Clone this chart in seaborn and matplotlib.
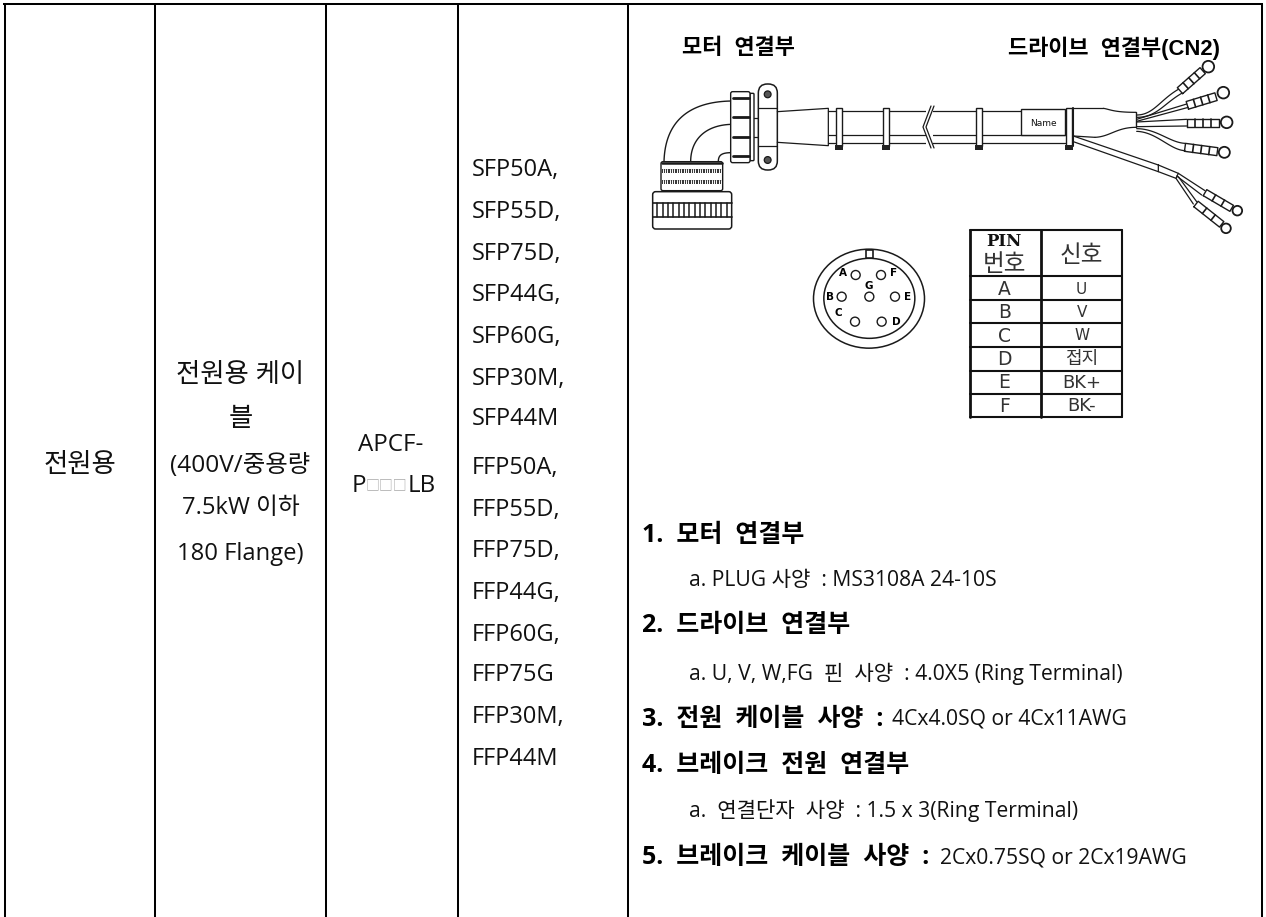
import matplotlib
matplotlib.use('Agg')
import matplotlib.pyplot as plt
import seaborn as sns
import numpy as np
from matplotlib.patches import Circle, Ellipse, FancyBboxPatch, Rectangle

usage_label = '전원용'
cable_lines = ['전원용 케이', '블', '(400V/중용량', '7.5kW 이하', '180 Flange)']
code_top = 'APCF-'
sfp_models = ['SFP50A,', 'SFP55D,', 'SFP75D,', 'SFP44G,', 'SFP60G,', 'SFP30M,', 'SFP44M']
ffp_models = ['FFP50A,', 'FFP55D,', 'FFP75D,', 'FFP44G,', 'FFP60G,', 'FFP75G', 'FFP30M,', 'FFP44M']
pin_labels = ['A', 'B', 'C', 'D', 'E', 'F']
signal_labels = ['U', 'V', 'W', '접지', 'BK+', 'BK-']
spec_heads = ['1.  모터  연결부', '2.  드라이브  연결부', '3.  전원  케이블  사양  :',
              '4.  브레이크  전원  연결부', '5.  브레이크  케이블  사양  :']
spec_tails = ['', '', '4Cx4.0SQ or 4Cx11AWG', '', '2Cx0.75SQ or 2Cx19AWG']
spec_subs = ['a. PLUG 사양  : MS3108A 24-10S',
             'a. U, V, W,FG  핀  사양  : 4.0X5 (Ring Terminal)',
             'a.  연결단자  사양  : 1.5 x 3(Ring Terminal)']

sns.set_theme(style='white')
BODY = ['Open Sans', 'Noto Sans CJK KR']
plt.rcParams['font.family'] = BODY

fig = plt.figure(figsize=(12.66, 9.17), dpi=100)
ax = fig.add_axes([0, 0, 1, 1])
ax.set_xlim(0, 1266)
ax.set_ylim(917, 0)
ax.set_axis_off()

INK = '#1a1a1a'
TXT = '#111111'

# table rules
ax.hlines(4, 3, 1263, color='black', lw=1.45)
ax.vlines([5, 155, 326, 457.5, 628, 1262], 4, 917, color='black', lw=1.45)

# left columns
ax.text(80, 466, usage_label, ha='center', va='center', fontsize=19, color=TXT)
for y, s, size in zip([376, 419, 466, 508, 554], cable_lines, [19, 19, 17.6, 17.1, 17.1]):
    ax.text(240.5, y, s, ha='center', va='center', fontsize=size, color=TXT)
ax.text(391, 445, code_top, ha='center', va='center', fontsize=17.4, color=TXT)
ax.text(352, 486, 'P', ha='left', va='center', fontsize=17.4, color=TXT)
ax.text(386, 486, '□□□', ha='center', va='center', fontsize=10, color='#a8a8a8')
ax.text(408, 486, 'LB', ha='left', va='center', fontsize=17.4, color=TXT)

for y, s in zip([170, 212, 254, 295, 337, 379, 419], sfp_models):
    ax.text(472, y, s, ha='left', va='center', fontsize=17, color=TXT)
for y, s in zip([468, 510, 551, 593, 635, 675, 717, 759], ffp_models):
    ax.text(472, y, s, ha='left', va='center', fontsize=17, color=TXT)

# spec list on the right
for y, head, tail, x_tail in zip([535, 626, 719, 766, 858], spec_heads, spec_tails,
                                 [0, 0, 892, 0, 940]):
    ax.text(642, y, head, ha='left', va='center', fontsize=18, fontweight='bold', color='black')
    if tail:
        ax.text(x_tail, y, tail, ha='left', va='center', fontsize=15.2, color=TXT)
for y, s in zip([580, 674, 811], spec_subs):
    ax.text(689, y, s, ha='left', va='center', fontsize=15.2, color=TXT)

# drawing labels
LABEL = ['Liberation Sans', 'Noto Sans CJK KR']
ax.text(738, 48, '모터  연결부', ha='center', va='center', fontsize=15.8, fontweight='bold',
        family=LABEL, color='black')
ax.text(1220, 48, '드라이브  연결부(CN2)', ha='right', va='center', fontsize=15.8,
        fontweight='bold', family=LABEL, color='black')


def za(x, y):
    return 640 + x / 3, y / 3


def zb(x, y):
    return 1010 + x / 3, y / 3


def zc(x, y):
    return 800 + x / 3, 220 + y / 3


def line(pts, lw=0.9, color=INK, z=3):
    xs, ys = zip(*pts)
    ax.plot(xs, ys, color=color, lw=lw, solid_capstyle='round', zorder=z)


def curve(p0, p1, p2, p3, lw=0.9):
    t = np.linspace(0, 1, 40)[:, None]
    p0, p1, p2, p3 = map(np.array, (p0, p1, p2, p3))
    pts = (1 - t) ** 3 * p0 + 3 * (1 - t) ** 2 * t * p1 + 3 * (1 - t) * t ** 2 * p2 + t ** 3 * p3
    ax.plot(pts[:, 0], pts[:, 1], color=INK, lw=lw, zorder=3)


def round_box(p0, p1, r=3, lw=1.0, fc='white', z=3):
    ax.add_patch(FancyBboxPatch((p0[0] + r, p0[1] + r), p1[0] - p0[0] - 2 * r, p1[1] - p0[1] - 2 * r,
                                boxstyle=f'round,pad={r},rounding_size={r}', ec=INK, fc=fc, lw=lw, zorder=z))


def terminal(p0, p1, ring, r, w=8.0, ticks=3):
    p0, p1 = np.array(p0), np.array(p1)
    d = (p1 - p0) / np.linalg.norm(p1 - p0)
    n = np.array([-d[1], d[0]]) * w / 2
    line([p0 + n, p1 + n, p1 - n, p0 - n, p0 + n], lw=1.0)
    for f in np.linspace(0, 1, ticks + 2)[1:-1]:
        c = p0 + (p1 - p0) * f
        line([c + n, c - n], lw=1.2)
    ax.add_patch(Circle(ring, r, ec=INK, fc='white', lw=1.3, zorder=4))


# elbow
curve(za(72, 485), za(75, 370), za(140, 305), za(275, 303), lw=1.0)
curve(za(152, 485), za(152, 420), za(195, 375), za(275, 373), lw=1.0)
curve(za(235, 485), za(235, 465), za(245, 458), za(275, 458), lw=1.0)

# nut and flange
round_box(za(330, 280), za(342, 482), r=1)
round_box(za(272, 275), za(330, 488), r=2)
for y in [295, 350, 412, 468]:
    line([za(280, y), za(327, y)], lw=2.0)
for y in [355, 410]:
    line([za(342, y), za(355, y)])
round_box(za(355, 252), za(412, 510), r=9, lw=1.1)
for y in [325, 437]:
    line([za(355, y), za(412, y)])
for y in [283, 480]:
    ax.add_patch(Circle(za(383, y), 3.4, ec=INK, fc='#555555', lw=0.9, zorder=4))

# taper and cable
line([za(412, 335), za(565, 325), za(565, 437), za(412, 427)])
line([za(565, 333), zb(32, 333)])
line([za(565, 405), zb(170, 405)])
line([za(565, 428), zb(170, 428)])

# break mark
ax.add_patch(Rectangle((926, 108), 7, 38, fc='white', ec='none', zorder=4))
line([(934, 106), (926, 127), (934, 148)], z=5)
line([(931, 106), (923, 127), (931, 148)], z=5)

# ties
for x in [836, 883, 976, 1066]:
    ax.add_patch(Rectangle((x, 108), 5.5, 38, ec=INK, fc='white', lw=1.0, zorder=5))
    ax.add_patch(Rectangle((x - 1.5, 145), 8.5, 4.5, ec='none', fc='#222222', zorder=5))
line([(1073, 108), (1073, 146)], lw=1.5)

# name sleeve
ax.add_patch(Rectangle(zb(32, 327), 44, 26, ec=INK, fc='white', lw=1.0, zorder=3))
ax.text(1043, 123, 'Name', ha='center', va='center', fontsize=6.5, family='DejaVu Sans', color=TXT)

# breakout
line([zb(190, 325), zb(280, 325)])
curve(zb(280, 325), zb(300, 328), zb(310, 337), zb(378, 337))
line([zb(190, 408), zb(255, 412)])
curve(zb(255, 412), zb(300, 410), zb(320, 382), zb(378, 382))
line([zb(378, 337), zb(378, 382)], lw=1.0)

# power wires
curve(zb(380, 345), zb(430, 345), zb(450, 300), zb(505, 268))
curve(zb(380, 352), zb(440, 352), zb(460, 312), zb(515, 280))
line([zb(380, 358), zb(530, 312)])
line([zb(380, 364), zb(535, 322)])
line([zb(380, 366), zb(530, 358)])
line([zb(380, 380), zb(530, 378)])
curve(zb(380, 386), zb(440, 386), zb(480, 428), zb(525, 430))
curve(zb(380, 394), zb(440, 396), zb(480, 450), zb(525, 452))
terminal(zb(510, 272), zb(578, 212), zb(595, 200), 5.8)
terminal(zb(532, 316), zb(618, 290), zb(640, 278), 5.8)
terminal(zb(530, 368), zb(628, 368), zb(650, 367), 5.8)
terminal(zb(525, 442), zb(622, 455), zb(643, 457), 5.5)

# brake cable
line([zb(190, 408), zb(445, 495)])
line([zb(190, 425), zb(445, 515)])
line([zb(445, 495), zb(505, 520), zb(498, 535), zb(445, 515), zb(445, 495)])
line([zb(505, 520), zb(585, 572)])
line([zb(500, 528), zb(575, 585)])
line([zb(505, 530), zb(560, 605)])
line([zb(498, 535), zb(550, 612)])
terminal(zb(585, 578), zb(665, 625), zb(682, 632), 4.8, w=7, ticks=2)
terminal(zb(558, 612), zb(635, 673), zb(648, 685), 4.8, w=7, ticks=2)

# connector body
round_box(za(63, 485), za(248, 572), r=2)
line([za(65, 489), za(246, 489)], lw=1.8)
for y in [512, 547]:
    ax.add_patch(Rectangle(za(65, y - 6), 60, 4, fc='#3a3a3a', ec='none', zorder=4))
    for x in np.arange(68, 246, 7):
        line([za(x, y - 6), za(x, y + 6)], lw=0.7, color='white', z=5)
line([za(72, 572), za(72, 578)])
line([za(238, 572), za(238, 578)])
round_box(za(38, 575), za(275, 687), r=3, lw=1.1)
for y in [608, 652]:
    line([za(38, y), za(275, y)], lw=1.2)
for x in np.arange(52, 272, 16):
    line([za(x, 610), za(x, 650)], lw=1.1)

# pin face
ax.add_patch(Ellipse(zc(207, 236), 111, 99, ec=INK, fc='white', lw=1.1, zorder=3))
ax.add_patch(Ellipse(zc(208, 235), 91, 80, ec=INK, fc='white', lw=1.1, zorder=3))
ax.add_patch(Rectangle(zc(197, 90), 7.5, 7.5, ec=INK, fc='white', lw=1.2, zorder=4))
for (hx, hy) in [(167, 165), (243, 165), (125, 230), (208, 230), (285, 230), (165, 305), (245, 305)]:
    ax.add_patch(Circle(zc(hx, hy), 4.5, ec=INK, fc='white', lw=1.0, zorder=4))
for s, (lx, ly) in zip('AFGBECD', [(130, 160), (280, 160), (207, 197), (90, 232), (323, 232), (115, 280), (288, 307)]):
    tx, ty = zc(lx, ly)
    ax.text(tx, ty, s, ha='center', va='center', fontsize=7.5, fontweight='bold',
            family='DejaVu Sans', color='black', zorder=5)

# pin table
rows_y = [30, 168, 240, 310, 380, 452, 522, 592]
for y in rows_y:
    line([zc(510, y), zc(965, y)], lw=1.5, color='#111111')
for x, lw in [(510, 2.0), (722, 2.0), (965, 1.5)]:
    line([zc(x, 30), zc(x, 592)], lw=lw, color='#111111')
tx, ty = zc(613, 65)
ax.text(tx, ty, 'PIN', ha='center', va='center', fontsize=12, fontweight='bold',
        family='DejaVu Serif', color='#111111')
tx, ty = zc(613, 133)
ax.text(tx, ty, '번호', ha='center', va='center', fontsize=17, family='Noto Sans CJK KR', color='#333333')
tx, ty = zc(845, 106)
ax.text(tx, ty, '신호', ha='center', va='center', fontsize=17, family='Noto Sans CJK KR', color='#333333')
for y, pin, sig in zip([208, 278, 348, 418, 488, 558], pin_labels, signal_labels):
    tx, ty = zc(613, y)
    ax.text(tx, ty, pin, ha='center', va='center', fontsize=13.5, family='DejaVu Sans', color='#333333')
    tx, ty = zc(845, y)
    size = 11 if sig in ('U', 'V', 'W') else 13
    ax.text(tx, ty, sig, ha='center', va='center', fontsize=size,
            family=['DejaVu Sans', 'Noto Sans CJK KR'], color='#333333')

fig.savefig('out.png', dpi=100)
plt.close(fig)
